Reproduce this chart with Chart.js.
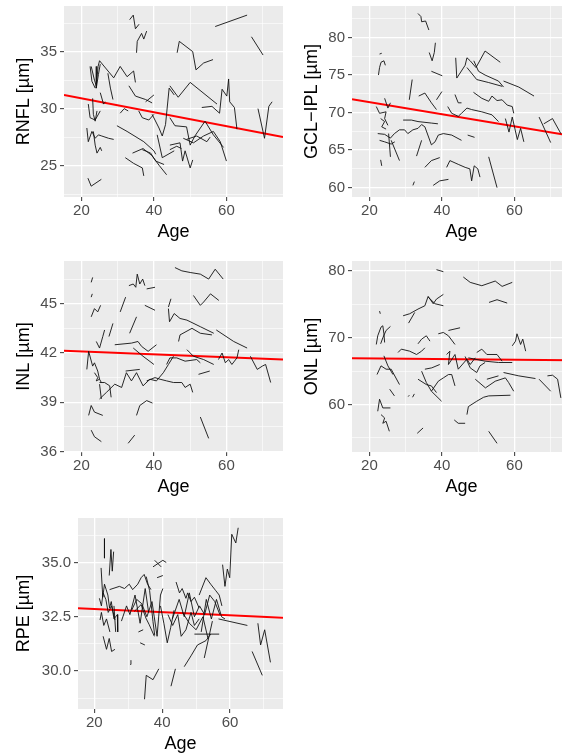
<!DOCTYPE html>
<html><head><meta charset="utf-8">
<script src="https://cdn.jsdelivr.net/npm/chart.js@4.4.1/dist/chart.umd.min.js"></script>
<style>
html,body{margin:0;padding:0;background:#fff;width:562px;height:755px;overflow:hidden;position:relative}
.p{position:absolute}
</style></head><body>
<div class="p" style="left:0;top:0;width:288px;height:243px"><canvas id="k1"></canvas></div>
<div class="p" style="left:288px;top:0;width:288px;height:243px"><canvas id="k2"></canvas></div>
<div class="p" style="left:0;top:255px;width:288px;height:243px"><canvas id="k3"></canvas></div>
<div class="p" style="left:288px;top:255px;width:288px;height:243px"><canvas id="k4"></canvas></div>
<div class="p" style="left:0;top:505px;width:288px;height:250px"><canvas id="k5"></canvas></div>
<script>
// ---------- data ----------
const xMajorTicks = [20, 40, 60];
const xMinorTicks = [30, 50, 70];
const ageRange = [15.2, 75.6];

const rnflMajor = [25, 30, 35];
const rnflMinor = [22.5, 27.5, 32.5, 37.5];
const rnflRange = [22.25, 39.0];
const rnflFit = [[15.2, 31.19], [75.6, 27.51]];
const rnflLines = [
 [[21.8,23.9],[22.7,23.2],[25.5,23.8]],
 [[22.7,33.7],[23.6,32.5],[24.1,32.0],[24.6,33.7],[25.0,34.2]],
 [[25.0,34.2],[28.9,32.7],[30.7,33.7],[32.6,32.8],[34.4,33.3],[34.9,32.3]],
 [[27.3,33.1],[28.0,31.8],[28.7,30.8]],
 [[22.4,33.7],[22.9,32.4],[23.8,31.8]],
 [[24.3,33.7],[24.1,31.8],[24.7,33.0],[25.2,33.9]],
 [[23.1,30.9],[23.3,29.5],[23.8,28.9],[24.3,29.8]],
 [[25.2,31.4],[26.1,30.4],[26.6,30.6]],
 [[21.9,30.4],[22.4,29.2],[23.8,29.0],[25.2,29.8]],
 [[21.5,28.3],[21.9,27.1],[22.9,28.0],[23.8,27.4],[24.7,27.7],[25.6,27.6]],
 [[23.3,28.0],[23.8,26.8],[24.3,26.1],[25.2,26.6],[25.6,26.3]],
 [[25.6,27.6],[27.5,27.4],[28.9,27.3]],
 [[29.8,28.5],[32.6,28.0],[37.2,27.1],[40.0,26.3],[40.5,26.0]],
 [[36.8,26.4],[39.1,26.1],[40.5,25.4],[42.8,25.1]],
 [[32.1,25.7],[34.4,25.2],[36.8,24.8],[37.2,24.1]],
 [[34.1,26.1],[37.0,26.5],[39.4,25.9],[41.5,25.0],[43.5,24.2]],
 [[30.7,29.6],[31.8,30.0],[32.9,29.8]],
 [[33.1,32.0],[34.9,31.1],[37.7,30.8],[39.5,30.5]],
 [[37.7,30.6],[40.0,31.2]],
 [[35.8,29.8],[36.8,29.2],[38.6,29.0],[40.0,29.5]],
 [[39.5,29.5],[41.4,28.3],[42.3,27.6],[43.2,28.6],[44.2,31.8],[45.6,31.2]],
 [[40.9,27.7],[42.3,25.7],[45.6,26.3]],
 [[56.9,37.2],[65.7,38.2]],
 [[66.9,36.3],[70.1,34.7]],
 [[46.4,34.9],[47.0,35.9],[50.7,35.0],[51.6,33.4],[53.7,34.0],[56.3,34.3]],
 [[44.4,32.0],[46.7,31.0],[50.0,32.3],[57.4,30.4]],
 [[53.2,30.1],[56.0,30.2],[58.1,29.6],[58.8,31.7],[60.1,31.1],[60.6,32.6],[60.9,30.6],[62.2,30.1],[62.9,28.2]],
 [[68.7,30.0],[70.5,27.4],[71.7,30.2],[72.6,30.6]],
 [[44.4,29.2],[45.8,28.5],[49.0,28.4],[50.0,26.8],[51.3,27.6],[54.1,28.9],[56.4,27.7],[59.2,26.6]],
 [[44.4,26.8],[47.2,27.0],[47.9,25.4],[48.6,26.3],[50.0,24.8],[50.7,25.5]],
 [[48.1,27.4],[50.9,27.0],[53.7,27.6],[56.4,28.0],[58.3,27.1],[60.0,25.4]],
 [[49.0,27.3],[51.8,27.6],[54.6,27.1],[55.5,27.5]],
 [[44.4,26.4],[46.3,26.7],[47.6,26.5]],
 [[33.3,37.8],[34.3,38.2],[34.9,37.0],[35.9,37.4]],
 [[35.2,34.9],[35.4,35.9],[36.6,36.6],[37.2,36.1],[38.0,36.8]]
];

const gclMajor = [60, 65, 70, 75, 80];
const gclMinor = [62.5, 67.5, 72.5, 77.5, 82.5];
const gclRange = [58.75, 84.2];
const gclFit = [[15.2, 71.77], [75.6, 66.91]];
const gclLines = [
 [[33.4,83.2],[34.2,82.8],[34.4,82.1],[35.5,82.2],[36.4,81.0]],
 [[36.5,78.0],[37.3,76.9],[37.9,78.0],[38.2,79.3]],
 [[37.1,75.5],[40.1,74.9]],
 [[22.5,75.0],[22.8,76.0],[23.2,76.7],[24.0,76.9],[24.4,76.3]],
 [[22.8,77.8],[23.4,77.9]],
 [[31.8,74.4],[31.0,71.7]],
 [[33.6,72.2],[35.3,72.6],[37.1,71.3],[38.5,70.4]],
 [[38.5,71.7],[40.0,72.8]],
 [[46.4,76.3],[46.9,77.3],[47.8,76.9],[49.4,76.0],[51.9,78.2],[56.1,76.7]],
 [[43.8,77.3],[44.1,74.6],[46.4,76.3]],
 [[48.8,76.9],[50.1,75.5],[51.9,75.0],[55.6,74.2],[57.0,73.4]],
 [[46.9,76.0],[49.6,74.4],[52.9,74.0],[56.6,73.5]],
 [[57.0,74.2],[61.2,73.4],[65.4,72.2]],
 [[48.7,72.7],[51.0,71.9],[52.9,71.5],[53.8,72.2],[55.2,71.6],[56.6,71.7],[58.0,71.0],[59.4,70.8],[59.8,69.9]],
 [[43.6,72.4],[44.5,71.3],[45.4,71.3]],
 [[41.6,70.8],[42.7,69.9],[44.5,69.5],[45.4,69.9],[46.9,70.6],[48.2,70.4],[51.0,70.1],[53.8,69.7],[55.6,68.8]],
 [[21.9,70.8],[22.8,69.9],[24.6,70.1],[24.2,69.2],[25.1,68.3]],
 [[23.1,69.2],[24.2,68.8],[23.4,68.1],[24.6,67.8]],
 [[24.2,71.9],[25.1,70.6],[25.8,71.3]],
 [[22.3,67.2],[24.2,67.1],[25.8,66.6],[26.9,67.2],[28.3,67.7],[29.7,67.7],[30.6,67.2],[32.0,67.7],[33.4,67.9],[34.4,68.4],[35.3,68.1],[37.1,65.7],[38.1,66.1],[39.0,67.0],[40.4,67.2],[42.7,67.0],[45.4,66.3]],
 [[22.8,66.3],[24.2,66.1],[26.0,65.8],[27.0,66.1]],
 [[25.3,67.2],[25.8,64.1]],
 [[26.0,66.3],[28.3,63.6]],
 [[23.1,63.7],[23.4,62.9]],
 [[33.0,64.2],[34.4,66.3]],
 [[29.3,69.0],[31.6,69.0],[33.4,68.8],[37.1,68.6],[38.9,68.5]],
 [[35.3,62.7],[37.1,63.6],[39.4,64.0]],
 [[41.3,62.7],[42.2,63.6],[44.5,63.1],[46.4,62.7],[47.7,62.5],[48.2,60.9],[48.9,62.9],[49.9,62.5],[50.5,61.4]],
 [[52.9,64.1],[55.2,60.0]],
 [[37.6,60.3],[39.4,60.9],[41.8,61.1]],
 [[32.0,60.3],[32.4,60.8]],
 [[47.1,67.0],[49.0,66.7]],
 [[57.5,69.2],[58.5,67.4],[59.4,69.4],[60.8,66.4],[61.7,67.9],[62.6,66.1]],
 [[66.8,69.4],[70.0,66.0]],
 [[68.1,68.5],[70.5,69.2],[72.8,67.2]]
];

const inlMajor = [36, 39, 42, 45];
const inlMinor = [37.5, 40.5, 43.5, 46.5];
const inlRange = [35.97, 47.6];
const inlFit = [[15.2, 42.13], [75.6, 41.60]];
const inlLines = [
 [[22.7,46.3],[23.1,46.6]],
 [[22.7,45.4],[23.0,45.6]],
 [[22.7,44.2],[23.6,44.7],[24.5,44.5],[25.3,44.9]],
 [[24.1,42.7],[25.0,42.3],[25.9,43.0],[26.4,43.4]],
 [[27.6,43.0],[28.7,43.8]],
 [[30.7,44.5],[32.2,45.4]],
 [[33.3,43.2],[35.2,44.2]],
 [[33.1,46.1],[34.3,46.2],[35.0,46.0],[35.4,46.8],[36.1,46.2],[36.9,46.5],[37.5,46.1]],
 [[38.0,45.9],[40.3,46.0]],
 [[37.5,44.9],[40.3,44.6]],
 [[44.0,44.8],[44.7,45.3]],
 [[44.0,44.7],[44.3,43.9],[45.6,44.4],[47.2,44.1],[49.1,44.0],[52.8,43.6],[56.5,43.2]],
 [[45.8,47.2],[47.7,47.0],[50.0,46.9],[52.8,46.8],[55.1,46.5],[56.9,47.1],[59.1,46.5]],
 [[50.9,45.5],[52.8,44.9],[53.7,45.1],[55.6,45.6],[57.9,45.2]],
 [[46.8,42.7],[47.2,43.1],[50.5,43.5],[52.8,43.2],[56.0,43.1]],
 [[57.2,43.4],[62.0,42.7],[65.7,42.3]],
 [[29.2,42.5],[33.8,42.6],[35.6,42.7],[36.6,42.4],[38.4,42.1],[40.7,42.5]],
 [[34.3,42.3],[37.0,41.8],[40.0,41.3]],
 [[25.0,39.2],[26.9,39.6],[29.2,40.1],[31.1,39.9],[32.4,40.8],[33.8,40.3],[35.2,40.8],[37.0,40.0],[38.9,40.4],[40.7,40.3],[42.6,40.8],[44.0,41.3],[45.4,41.8]],
 [[21.5,41.0],[22.0,42.1],[23.1,41.2],[23.6,41.4],[24.5,40.9],[25.0,40.4],[25.5,40.2]],
 [[23.6,40.8],[24.5,40.5],[24.1,40.3],[25.0,40.4]],
 [[25.0,40.2],[26.4,40.2],[27.8,40.0],[28.2,39.3]],
 [[25.0,40.1],[25.5,39.2]],
 [[32.2,40.9],[36.1,41.0]],
 [[38.0,40.3],[40.3,40.5],[41.7,40.4],[43.5,40.3],[45.4,40.2],[47.7,40.2],[48.6,39.9],[50.0,40.1],[50.7,39.6]],
 [[43.5,41.3],[44.4,41.7],[46.3,41.7],[48.6,41.5],[51.8,41.6],[52.8,41.4]],
 [[49.1,42.2],[50.9,41.8],[53.7,41.6],[56.5,41.3]],
 [[57.8,41.6],[58.8,42.0],[59.7,41.4],[60.6,41.6],[61.5,41.3],[62.9,41.7],[63.4,42.2]],
 [[66.6,41.8],[68.5,41.0],[69.9,41.2],[70.8,41.3],[72.2,40.2]],
 [[52.3,40.7],[55.4,40.9]],
 [[35.2,38.2],[36.1,38.8],[38.0,39.1],[39.6,38.95]],
 [[22.0,38.2],[22.7,38.8],[23.6,38.4],[25.9,38.2]],
 [[22.7,37.3],[23.6,36.9],[25.5,36.6]],
 [[32.9,36.5],[34.7,37.0]],
 [[52.8,38.1],[55.1,36.8]]
];

const onlMajor = [60, 70, 80];
const onlMinor = [55, 65, 75];
const onlRange = [52.9, 81.5];
const onlFit = [[15.2, 66.92], [75.6, 66.62]];
const onlLines = [
 [[38.5,80.2],[40.4,79.9]],
 [[45.9,79.1],[47.8,78.3],[51.0,77.8],[54.7,78.5],[56.6,77.7],[59.4,78.3]],
 [[53.0,75.3],[55.2,75.7],[58.0,75.2]],
 [[29.3,73.3],[31.1,73.6],[33.4,74.3],[35.3,74.8],[36.2,76.2],[37.6,75.1],[38.5,75.8],[40.4,76.5]],
 [[30.8,72.2],[32.5,73.8]],
 [[36.2,76.1],[38.1,75.1],[40.4,74.8]],
 [[22.8,74.0],[23.0,73.6]],
 [[21.9,69.0],[22.3,70.3],[23.2,71.6],[23.7,71.8],[24.0,70.6],[24.2,69.3]],
 [[23.1,69.1],[23.7,70.0],[24.6,71.1],[25.8,71.7]],
 [[33.4,69.1],[34.4,69.8],[35.7,70.3],[36.7,69.5]],
 [[39.0,70.6],[40.4,70.8],[41.8,70.3],[43.6,69.0]],
 [[41.8,71.1],[45.0,71.5]],
 [[27.9,67.8],[28.8,68.3],[31.1,68.0],[33.0,67.5],[34.4,68.0],[35.3,68.5]],
 [[22.1,64.5],[23.2,65.8],[24.6,65.3],[26.0,65.3],[28.3,63.0]],
 [[24.0,67.3],[25.1,65.8],[26.5,64.5]],
 [[25.6,62.3],[26.9,61.3]],
 [[30.7,61.2],[31.0,61.4]],
 [[31.9,61.1],[32.4,61.6]],
 [[35.3,65.3],[37.2,65.5],[39.4,66.0]],
 [[34.4,65.0],[35.7,63.3],[37.1,62.0],[39.9,60.5]],
 [[33.4,63.8],[35.7,63.0],[37.1,62.8],[38.5,61.8]],
 [[37.1,62.0],[39.0,63.5],[40.4,64.0],[41.8,64.5],[42.7,64.5],[43.6,62.8]],
 [[41.3,67.5],[42.2,68.0],[41.8,66.0],[43.6,67.5],[44.5,65.3],[46.9,66.8],[47.8,66.0],[49.2,67.0]],
 [[47.3,67.0],[51.9,66.5],[55.6,66.3],[59.4,66.3]],
 [[49.6,67.8],[51.0,68.3],[52.4,67.5],[55.2,67.5],[56.6,66.5]],
 [[46.4,67.2],[47.8,65.5],[49.6,64.8],[50.5,65.8],[51.9,66.3]],
 [[52.4,63.8],[55.6,64.3]],
 [[49.2,63.8],[52.0,62.5],[54.7,63.5],[57.5,64.0],[58.4,63.3],[59.8,62.0]],
 [[57.0,64.8],[61.2,64.3],[65.8,63.9]],
 [[59.4,68.8],[60.3,69.5],[60.7,70.6],[61.7,69.0],[62.3,69.8],[63.1,68.0]],
 [[66.8,63.8],[70.0,62.0]],
 [[69.1,64.3],[70.5,64.4],[71.9,63.8],[72.8,61.0]],
 [[46.9,58.5],[47.3,59.7],[49.6,60.5],[51.5,61.1],[52.9,61.3],[58.9,61.4]],
 [[43.4,57.7],[44.5,57.2],[46.4,57.2]],
 [[52.9,56.0],[55.2,54.2]],
 [[33.2,55.7],[34.8,56.5]],
 [[22.3,59.0],[22.8,60.8],[23.7,59.5],[25.8,59.5]],
 [[23.2,58.5],[24.2,58.0],[23.7,57.2],[24.6,57.5],[25.5,56.0]]
];

const rpeMajor = [30.0, 32.5, 35.0];
const rpeMinor = [28.75, 31.25, 33.75, 36.25];
const rpeRange = [28.25, 37.05];
const rpeFit = [[15.2, 32.89], [75.6, 32.45]];
const rpeLines = [
 [[57.8,34.9],[58.5,33.9],[59.2,34.7],[59.9,34.3],[60.5,36.3],[61.7,35.9],[62.4,36.6]],
 [[66.5,30.9],[69.5,29.8]],
 [[68.2,32.2],[69.0,31.2],[70.2,31.9],[71.9,30.4]],
 [[56.6,32.4],[65.1,32.1]],
 [[49.5,31.7],[56.8,31.7]],
 [[52.4,30.6],[54.8,32.3]],
 [[46.5,30.2],[48.5,30.7],[50.4,31.2],[52.9,31.4],[54.3,31.7]],
 [[42.6,29.3],[43.9,30.1]],
 [[34.8,28.7],[35.3,29.8],[37.3,29.6],[39.0,30.1]],
 [[30.6,30.3],[30.8,30.5]],
 [[33.5,31.3],[34.9,31.2]],
 [[33.0,31.8],[34.4,31.9]],
 [[23.0,36.1],[23.0,35.2]],
 [[24.4,34.4],[24.9,35.6],[25.3,34.6],[25.7,35.5]],
 [[22.0,34.75],[22.5,33.4],[23.0,34.0],[24.0,33.5],[24.5,32.9],[25.0,33.2],[25.8,32.4],[26.8,32.6],[26.9,31.8]],
 [[24.5,33.75],[27.4,33.9],[28.9,33.8],[30.3,34.0],[31.3,33.75],[32.8,34.0],[33.8,34.3],[34.7,34.45],[35.7,34.0],[36.7,33.75]],
 [[22.6,31.6],[23.6,31.0],[24.4,31.5],[25.1,30.9],[26.1,31.0]],
 [[31.8,32.75],[33.8,33.06],[35.2,32.44],[36.2,32.13],[37.7,31.6]],
 [[35.3,34.35],[36.3,33.7],[36.8,33.0],[37.3,32.27],[37.8,31.65]],
 [[37.3,34.8],[40.2,35.1],[41.2,35.0]],
 [[37.8,35.1],[39.7,34.8]],
 [[38.5,34.3],[40.2,34.4]],
 [[44.1,34.1],[45.1,33.6],[45.9,33.8],[47.0,33.35],[47.5,33.6],[48.5,33.2],[49.5,33.4],[50.9,32.9]],
 [[50.9,33.5],[52.9,34.3],[54.3,34.0],[55.8,33.7],[56.8,33.5],[57.6,33.0]],
 [[41.7,32.6],[43.1,32.1],[44.6,32.6],[45.6,31.6],[47.0,31.9],[48.5,32.7],[49.5,32.1],[50.9,32.4]],
 [[21.5,33.35],[22.1,33.0],[22.6,33.6],[23.4,33.3],[24.1,32.7],[25.1,33.0],[26.1,32.35]],
 [[21.7,32.35],[22.1,32.7],[22.8,32.1],[23.6,32.4],[24.6,31.8]],
 [[39.5,33.0],[40.5,32.2],[41.5,31.3],[42.5,32.0],[43.5,32.8]],
 [[31.0,32.8],[32.5,33.3],[34.0,33.1],[35.5,32.5],[37.0,33.2],[38.5,31.6],[39.5,33.5],[40.2,33.8]],
 [[28.0,32.3],[29.5,33.0],[30.5,32.6],[32.0,33.5],[33.5,32.2],[35.0,33.8],[36.0,32.7]],
 [[43.0,32.4],[45.0,33.3],[46.5,32.5],[48.0,33.6],[49.5,32.5],[51.0,33.0],[52.5,32.6],[54.0,33.5],[55.5,33.2],[57.0,32.6]],
 [[51.5,31.8],[53.0,33.3],[54.5,32.4],[56.0,33.3],[57.5,32.5],[58.5,32.4]],
 [[46.0,32.7],[48.0,32.2],[50.0,31.9],[52.0,32.5],[53.5,31.5]],
 [[25.8,33.0],[26.3,31.8]]
];

// ---------- drawing ----------
const FONT = '"Liberation Sans", Arial, Helvetica, sans-serif';
const panelBg = {
  id: 'panelBg',
  beforeDraw(chart) {
    const a = chart.chartArea, c = chart.ctx;
    c.save(); c.fillStyle = '#EBEBEB';
    c.fillRect(a.left, a.top, a.right - a.left, a.bottom - a.top);
    c.restore();
  }
};

function makePanel(id, lines, fit, yRange, yMajor, yMinor, yTitle, opt) {
  const datasets = lines.map(l => ({
    data: l.map(p => ({x: p[0], y: p[1]})),
    borderColor: '#111', borderWidth: 0.9, pointRadius: 0, showLine: true, fill: false, tension: 0
  }));
  datasets.push({
    data: fit.map(p => ({x: p[0], y: p[1]})),
    borderColor: '#FF0000', borderWidth: 2, pointRadius: 0, showLine: true, fill: false
  });
  const isMajor = (arr, v) => arr.some(m => Math.abs(m - v) < 1e-9);
  const gridCommon = (major) => ({
    color: '#FFFFFF',
    lineWidth: ctx => (ctx.tick && isMajor(major, ctx.tick.value)) ? 1.3 : 0.6,
    drawTicks: true, tickLength: 4, tickWidth: 1,
    tickColor: ctx => (ctx.tick && isMajor(major, ctx.tick.value)) ? '#333333' : 'rgba(0,0,0,0)'
  });
  new Chart(document.getElementById(id), {
    type: 'scatter',
    data: {datasets},
    plugins: [panelBg],
    options: {
      responsive: true, maintainAspectRatio: false, animation: false, events: [],
      layout: {padding: {top: opt.padTop, right: 5, left: 0, bottom: 0}},
      plugins: {legend: {display: false}, tooltip: {enabled: false}},
      scales: {
        x: {
          type: 'linear', min: ageRange[0], max: ageRange[1],
          afterBuildTicks: a => { a.ticks = xMajorTicks.concat(xMinorTicks).sort((p, q) => p - q).map(v => ({value: v})); },
          afterFit: a => { a.height = opt.xH; a.paddingLeft = 0; a.paddingRight = 0; },
          ticks: {callback: v => isMajor(xMajorTicks, v) ? String(v) : '', color: '#4D4D4D',
                  font: {family: FONT, size: 15}, padding: 1, maxRotation: 0, autoSkip: false},
          grid: gridCommon(xMajorTicks),
          border: {display: false},
          title: {display: true, text: 'Age', color: '#000', font: {family: FONT, size: 18}, padding: {top: 0, bottom: 0}}
        },
        y: {
          type: 'linear', min: yRange[0], max: yRange[1],
          afterBuildTicks: a => { a.ticks = yMajor.concat(yMinor).sort((p, q) => p - q).map(v => ({value: v})); },
          afterFit: a => { a.width = opt.yW; a.paddingTop = 0; a.paddingBottom = 0; },
          ticks: {callback: v => isMajor(yMajor, v) ? (opt.dec ? v.toFixed(1) : String(v)) : '', color: '#4D4D4D',
                  font: {family: FONT, size: 15}, padding: 3, autoSkip: false},
          grid: gridCommon(yMajor),
          border: {display: false},
          title: {display: true, text: yTitle, color: '#000', font: {family: FONT, size: 18}, padding: {top: 13, bottom: 0}}
        }
      }
    }
  });
}

makePanel('k1', rnflLines, rnflFit, rnflRange, rnflMajor, rnflMinor, 'RNFL [µm]', {padTop: 6, xH: 46, yW: 64});
makePanel('k2', gclLines, gclFit, gclRange, gclMajor, gclMinor, 'GCL\u2212IPL [µm]', {padTop: 6, xH: 46, yW: 64});
makePanel('k3', inlLines, inlFit, inlRange, inlMajor, inlMinor, 'INL [µm]', {padTop: 6, xH: 46, yW: 64});
makePanel('k4', onlLines, onlFit, onlRange, onlMajor, onlMinor, 'ONL [µm]', {padTop: 6, xH: 46, yW: 64});
makePanel('k5', rpeLines, rpeFit, rpeRange, rpeMajor, rpeMinor, 'RPE [µm]', {padTop: 13, xH: 46, yW: 78, dec: true});
</script>
</body></html>
